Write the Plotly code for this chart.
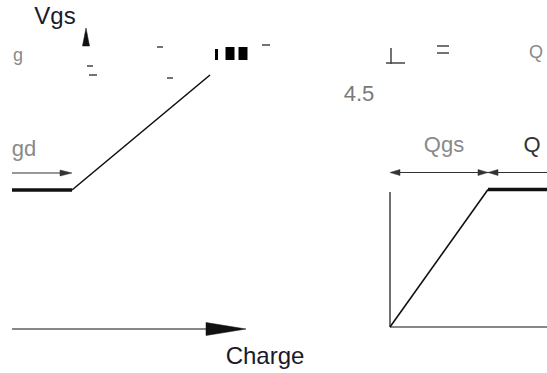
# =========================================================
# Gate charge sketch: Vgs vs Charge (plateau + turn-on ramp)
# Diagram drawn on a 547 x 373 canvas, y grows downwards.
# =========================================================

import plotly.graph_objects as go

_INK = "#111111"
_GREY = "#8a8a8a"
_FONT = "Liberation Sans, Arial, sans-serif"

# ── Data (diagram units) ──────────────────────────────────────────────────────
plateau_q = [12, 72]
plateau_v = [190, 190]
rise_q = [72, 210]
rise_v = [190, 75]

ramp_q = [390, 488]
ramp_v = [327, 189.5]
flat_q = [488, 547]
flat_v = [189.5, 189.5]

# axes of the right panel
vaxis_q = [390, 390]
vaxis_v = [192, 327]
haxis_q = [390, 547]
haxis_v = [327, 327]

# charge axis + arrows
charge_q = [12, 208]
charge_v = [329, 329]
charge_head_q = [206, 246, 206, 206]
charge_head_v = [322.5, 329, 335.5, 322.5]

vgs_head_q = [82.5, 86, 89.5, 82.5]
vgs_head_v = [46, 28, 46, 46]

qgd_q = [12, 66]
qgd_v = [173, 173]
qgd_head_q = [60, 72, 60, 60]
qgd_head_v = [170, 173, 176, 170]

dim_q = [392, 547]
dim_v = [172.5, 172.5]
dim_heads_q = [[390, 400, 400, 390], [488, 478, 478, 488], [488, 498, 498, 488]]
dim_heads_v = [[172.5, 169.5, 175.5, 172.5], [172.5, 169.5, 175.5, 172.5],
               [172.5, 169.5, 175.5, 172.5]]

# scraps of the broken top row (short strokes)
scrap_q = [[87, 93], [89, 97], [157, 163], [167, 173], [262, 270], [386, 405],
           [391, 391], [437, 449], [437, 449]]
scrap_v = [[66, 66], [75, 75], [47, 47], [78, 78], [45, 45], [63, 63],
           [48, 64], [46, 46], [53, 53]]
block_q = [[216.5, 216.5], [230, 230], [243, 243]]
block_v = [[49, 60], [47, 60], [47, 60]]

# labels
label_text = ["Vgs", "Charge", "gd", "g", "4.5", "Qgs", "Q", "Q"]
label_q = [55, 265, 24, 18, 359, 444, 532, 536]
label_v = [18, 358, 150, 56, 95, 146, 146, 53]
label_size = [24, 24, 22, 18, 22, 22, 22, 18]
label_col = ["#1a1a2a", "#1a1a2a", _GREY, _GREY, "#7a7a7a", _GREY, "#333333", _GREY]

fig = go.Figure()


def _line(x, y, width, color=_INK):
    fig.add_trace(go.Scatter(
        x=x, y=y, mode="lines",
        line=dict(color=color, width=width),
        showlegend=False, hoverinfo="skip",
    ))


def _head(x, y, color=_INK):
    fig.add_trace(go.Scatter(
        x=x, y=y, mode="lines", fill="toself", fillcolor=color,
        line=dict(color=color, width=0.5),
        showlegend=False, hoverinfo="skip",
    ))


# ── Curves ────────────────────────────────────────────────────────────────────
_line(plateau_q, plateau_v, 3.5)
_line(rise_q, rise_v, 1.6)
_line(ramp_q, ramp_v, 1.6)
_line(flat_q, flat_v, 3.5)

# ── Axes / dimension arrows ───────────────────────────────────────────────────
_line(vaxis_q, vaxis_v, 1.2)
_line(haxis_q, haxis_v, 1.2)
_line(charge_q, charge_v, 1.2)
_head(charge_head_q, charge_head_v)
_head(vgs_head_q, vgs_head_v)
_line(qgd_q, qgd_v, 1.2, "#333333")
_head(qgd_head_q, qgd_head_v, "#333333")
_line(dim_q, dim_v, 1.0, "#333333")
for hx, hy in zip(dim_heads_q, dim_heads_v):
    _head(hx, hy, "#333333")

# ── Broken scraps ─────────────────────────────────────────────────────────────
for sx, sy in zip(scrap_q, scrap_v):
    _line(sx, sy, 1.5, "#444444")
for bx, by in zip(block_q, block_v):
    _line(bx, by, 9 if bx[0] > 220 else 3, "#000000")

# ── Labels ────────────────────────────────────────────────────────────────────
fig.add_trace(go.Scatter(
    x=label_q, y=label_v, mode="text", text=label_text,
    textfont=dict(family=_FONT, size=label_size, color=label_col),
    textposition="middle center",
    showlegend=False, hoverinfo="skip",
))

fig.update_layout(
    width=547, height=373,
    margin=dict(l=0, r=0, t=0, b=0),
    paper_bgcolor="white", plot_bgcolor="white",
    xaxis=dict(range=[0, 547], visible=False, fixedrange=True),
    yaxis=dict(range=[373, 0], visible=False, fixedrange=True),
)

fig.write_html("out.html", post_script="document.body.style.margin='0';",
               config={"displayModeBar": False})
